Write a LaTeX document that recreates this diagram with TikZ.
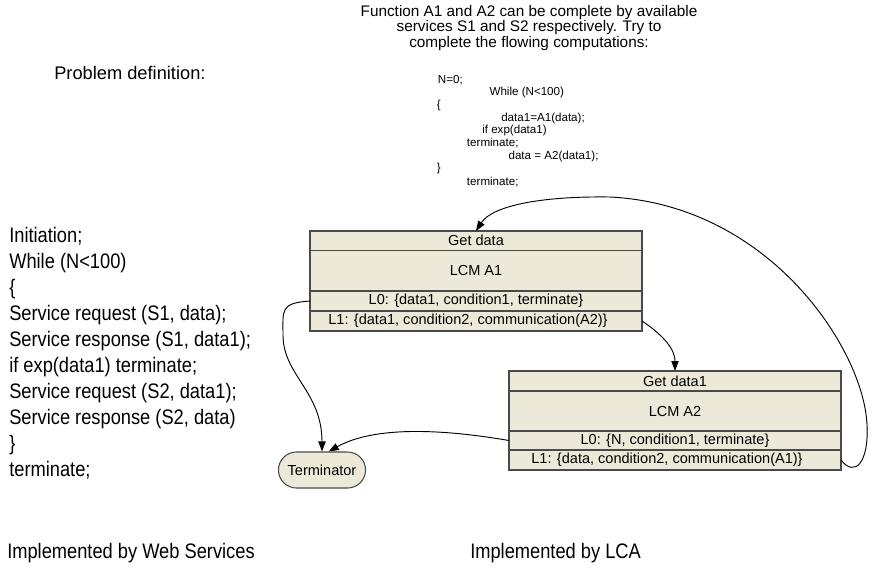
\documentclass[tikz,border=0pt]{standalone}
\usepackage{fontspec}
\setmainfont{Liberation Sans}
\newfontfamily\narrowsans[FakeStretch=0.87]{Liberation Sans}
\usetikzlibrary{positioning,shapes.misc,arrows.meta}
\definecolor{lcmfill}{HTML}{ECE9D8}
\definecolor{lcmline}{HTML}{4A4A4A}

\begin{document}
\begin{tikzpicture}[x=0.75pt, y=-0.75pt,
        lcmrow/.style={draw=lcmline, line width=1pt, fill=lcmfill, minimum width=249pt,
                inner sep=0pt, outer sep=0pt, font=\fontsize{10.9}{13}\selectfont},
        codeline/.style={anchor=west, inner sep=0pt, font=\fontsize{8.7}{10}\selectfont},
        bigline/.style={anchor=base west, inner sep=0pt, font=\narrowsans\fontsize{15.75}{19}\selectfont},
        link/.style={-{Triangle[length=7.5pt,width=5.5pt]}, line width=0.7pt}]

        \useasboundingbox (0,0) rectangle (874,568);

        \node[align=center, inner sep=0pt, font=\fontsize{11.5}{9.6}\selectfont] (task) at (529,28)
                {Function A1 and A2 can be complete by available\\services S1 and S2 respectively. Try to\\complete the flowing computations:};
        \node[anchor=west, inner sep=0pt, font=\fontsize{13.7}{16}\selectfont] (probdef) at (54,73) {Problem definition:};

        \foreach \cx/\ctext [count=\i] in {437.7/N=0;, 489.3/While (N<100), 436.7/\{, 501/data1=A1(data);,
                482/if exp(data1), 466.7/terminate;, 508.3/data = A2(data1);, 436.7/\}, 466.7/terminate;}
        {
                \node[codeline] (code\i) at (\cx, 80+12.7*\i-12.7) {\ctext};
        }

        \foreach \ltext [count=\i] in {Initiation;, While (N<100), \{, {Service request (S1, data);},
                {Service response (S1, data1);}, if exp(data1) terminate;, {Service request (S2, data1);},
                {Service response (S2, data)}, \}, terminate;}
        {
                \node[bigline] (ws\i) at (9, 242.5+26*\i-26) {\ltext};
        }

        \node[bigline, anchor=west] (wslabel) at (7,553) {Implemented by Web Services};
        \node[bigline, anchor=west] (lcalabel) at (470,553) {Implemented by LCA};

        \node[lcmrow, minimum height=14.6pt] (a1get) at (476,240.75) {Get data};
        \node[lcmrow, minimum height=30.4pt, below=0pt of a1get] (a1lcm) {LCM A1};
        \node[lcmrow, minimum height=15pt, below=0pt of a1lcm] (a1l0) {L0: \{data1, condition1, terminate\}};
        \node[lcmrow, minimum height=15pt, below=0pt of a1l0] (a1l1) {L1: \{data1, condition2, communication(A2)\}\hspace*{12pt}};

        \node[lcmrow, minimum height=15pt] (a2get) at (675,381) {Get data1};
        \node[lcmrow, minimum height=30pt, below=0pt of a2get] (a2lcm) {LCM A2};
        \node[lcmrow, minimum height=14.25pt, below=0pt of a2lcm] (a2l0) {L0: \{N, condition1, terminate\}};
        \node[lcmrow, minimum height=15pt, below=0pt of a2l0] (a2l1) {L1: \{data, condition2, communication(A1)\}\hspace*{12pt}};

        \node[rounded rectangle, draw=lcmline, line width=0.8pt, fill=lcmfill, minimum width=72pt,
                minimum height=27pt, font=\fontsize{10.9}{13}\selectfont] (term) at (322,470) {Terminator};

        \draw[link] (a1l0.west) .. controls +(-30,2) and +(0,-25) .. (283,335)
                .. controls +(0,40) and +(0,-60) .. (term.north);
        \draw[link] (a2l0.west) .. controls +(-70,-12) and +(45,-25) .. ([xshift=5pt]term.north);
        \draw[link] (a1l1.east) .. controls +(12,8) and +(0,-26) .. (a2get.north);
        \draw[link] (a2l1.east) .. controls +(14,18) and +(2,37) .. (867,425)
                .. controls +(-3,-75) and +(160,8) .. (610,197)
                .. controls +(-70,-1) and +(16,-25) .. (a1get.north);

\end{tikzpicture}
\end{document}
